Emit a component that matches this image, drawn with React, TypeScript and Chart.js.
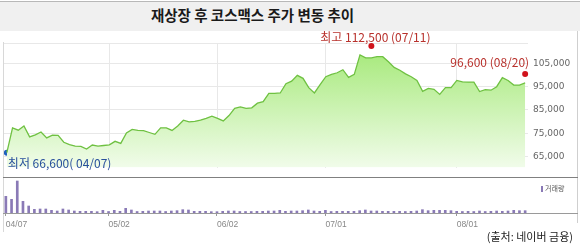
import React, { useEffect, useRef } from 'react';
import { Chart, registerables } from 'chart.js';

Chart.register(...registerables);

const TITLE = '재상장 후 코스맥스 주가 변동 추이';
const SOURCE = '(출처: 네이버 금융)';
const VOLUME_LEGEND = '거래량';

const dates = [
  '04/07', '04/08', '04/09', '04/10', '04/11', '04/14', '04/15', '04/16', '04/17', '04/18',
  '04/21', '04/22', '04/23', '04/24', '04/25', '04/28', '04/29', '04/30',
  '05/02', '05/07', '05/08', '05/09', '05/12', '05/13', '05/14', '05/15', '05/16', '05/19',
  '05/20', '05/21', '05/22', '05/23', '05/26', '05/27', '05/28', '05/29', '05/30',
  '06/02', '06/03', '06/05', '06/09', '06/10', '06/11', '06/12', '06/13', '06/16', '06/17',
  '06/18', '06/19', '06/20', '06/23', '06/24', '06/25', '06/26', '06/27', '06/30',
  '07/01', '07/02', '07/03', '07/04', '07/07', '07/08', '07/09', '07/10', '07/11', '07/14',
  '07/15', '07/16', '07/17', '07/18', '07/21', '07/22', '07/23', '07/24', '07/25', '07/28',
  '07/29', '07/30', '07/31',
  '08/01', '08/04', '08/05', '08/06', '08/07', '08/08', '08/11', '08/12', '08/13', '08/14',
  '08/18', '08/19', '08/20',
];

const prices = [
  66600, 77300, 76300, 78100, 73400, 74300, 75500, 73000, 74200, 74100, 71100, 70100, 69400, 69300, 68200, 69900, 69400, 69700,
  70000, 71500, 70600, 75100, 76600, 76200, 76100, 75300, 74500, 77300, 77300, 76200, 78100, 80600, 79900, 80100, 80600, 81400, 82300,
  81400, 80300, 82600, 85700, 86300, 85700, 85900, 87900, 88600, 92100, 92100, 92300, 96300, 97400, 99900, 98600, 94600, 92300, 95900,
  99300, 100300, 101000, 102300, 99000, 100300, 108700, 107400, 107400, 107900, 107900, 105700, 103300, 102100, 100500, 99300, 97700, 93000, 94300, 93900, 91700, 94600, 94600,
  97700, 97100, 97000, 97000, 92900, 93700, 93500, 95000, 98900, 97700, 95700, 95700, 96600,
];

const volumes = [
  500, 410, 960, 350, 210, 110, 120, 120, 80, 60, 120, 90, 60, 50, 50, 50, 40, 80,
  45, 80, 50, 140, 90, 45, 50, 60, 60, 60, 45, 60, 70, 100, 90, 50, 50, 50, 40,
  40, 50, 60, 60, 45, 45, 45, 50, 50, 60, 60, 80, 50, 60, 60, 70, 90, 60, 50,
  80, 45, 50, 50, 50, 50, 70, 90, 60, 60, 50, 50, 50, 50, 45, 50, 60, 100, 70, 80, 80, 80, 70,
  50, 45, 50, 45, 60, 45, 50, 60, 50, 60, 80, 70, 70,
];

const priceTicks = [65000, 75000, 85000, 95000, 105000];
const priceMin = 60200;
const priceMax = 113800;
const monthTickLabels = ['04/07', '05/02', '06/02', '07/01', '08/01'];

const highIdx = 64;
const highDot = 112500;
const highLabel = '최고 112,500 (07/11)';
const lowIdx = 0;
const lowDot = 66600;
const lowLabel = '최저 66,600( 04/07)';
const lastIdx = 91;
const lastDot = 100500;
const lastLabel = '96,600 (08/20)';

const RED = '#d0121b';
const RED_TEXT = '#b8312c';
const BLUE = '#1d5fbf';
const BLUE_TEXT = '#28509c';

const monthIdx = monthTickLabels.map((d) => dates.indexOf(d));

const annotationPlugin = {
  id: 'annot',
  afterDatasetsDraw(chart: any) {
    const { ctx, scales } = chart;
    const x = scales.x;
    const y = scales.y;
    ctx.save();
    ctx.font = '12px "Noto Sans CJK KR", sans-serif';
    ctx.textBaseline = 'middle';
    // high
    ctx.fillStyle = RED_TEXT;
    ctx.textAlign = 'center';
    ctx.fillText(highLabel, x.getPixelForValue(highIdx) + 4, y.getPixelForValue(highDot) - 9);
    // last
    ctx.textAlign = 'right';
    ctx.fillText(lastLabel, x.getPixelForValue(lastIdx) + 4, y.getPixelForValue(lastDot) - 11);
    // low
    ctx.fillStyle = BLUE_TEXT;
    ctx.textAlign = 'left';
    ctx.fillText(lowLabel, x.getPixelForValue(lowIdx) + 1, y.getPixelForValue(lowDot) + 11);
    ctx.restore();
  },
};

function dotSeries(idx: number, val: number) {
  return dates.map((_, i) => (i === idx ? val : null));
}

export default function App() {
  const priceRef = useRef<HTMLCanvasElement>(null);
  const volRef = useRef<HTMLCanvasElement>(null);

  useEffect(() => {
    document.body.style.margin = '0';
    const pc = new Chart(priceRef.current!, {
      type: 'line',
      data: {
        labels: dates,
        datasets: [
          {
            data: prices,
            borderColor: '#6fc142',
            borderWidth: 1.3,
            pointRadius: 0,
            tension: 0,
            fill: 'start',
            backgroundColor: (c: any) => {
              const { chart } = c;
              const area = chart.chartArea;
              if (!area) return 'rgba(0,0,0,0)';
              const g = chart.ctx.createLinearGradient(0, area.top, 0, area.bottom);
              g.addColorStop(0, '#a2e874');
              g.addColorStop(1, '#f1fcea');
              return g;
            },
          },
          { data: dotSeries(highIdx, highDot), showLine: false, pointRadius: 3, pointBackgroundColor: RED, pointBorderWidth: 0 },
          { data: dotSeries(lastIdx, lastDot), showLine: false, pointRadius: 3, pointBackgroundColor: RED, pointBorderWidth: 0 },
          { data: dotSeries(lowIdx, lowDot), showLine: false, pointRadius: 3, pointBackgroundColor: BLUE, pointBorderWidth: 0 },
        ],
      },
      options: {
        animation: false,
        responsive: false,
        layout: { padding: { left: 3, top: 12, bottom: 1, right: 0 } },
        plugins: { legend: { display: false }, tooltip: { enabled: false } },
        scales: {
          x: {
            type: 'category',
            offset: true,
            grid: { color: '#e8e8e8', offset: false, drawTicks: false },
            border: { display: false },
            ticks: { display: false, autoSkip: false },
            afterBuildTicks: (s: any) => {
              s.ticks = s.ticks.filter((t: any) => monthIdx.includes(t.value) && t.value !== 0);
            },
            afterFit: (s: any) => {
              s.height = 0;
            },
          },
          y: {
            position: 'right',
            min: priceMin,
            max: priceMax,
            grid: { color: '#e8e8e8', drawTicks: false },
            border: { display: false },
            ticks: {
              padding: 5,
              color: '#666',
              font: { family: '"DejaVu Sans", sans-serif', size: 9 },
              callback: (v: any) => (priceTicks.includes(v) ? Number(v).toLocaleString('en-US') : ''),
            },
            afterBuildTicks: (s: any) => {
              s.ticks = [...priceTicks, priceMax].map((v) => ({ value: v }));
            },
            afterFit: (s: any) => {
              s.width = 52;
            },
          },
        },
      },
      plugins: [annotationPlugin],
    } as any);

    const vc = new Chart(volRef.current!, {
      type: 'bar',
      data: {
        labels: dates,
        datasets: [
          {
            data: volumes,
            backgroundColor: '#8a7ab6',
            barThickness: 2,
          },
        ],
      },
      options: {
        animation: false,
        responsive: false,
        layout: { padding: { left: 3, top: 0, bottom: 0, right: 0 } },
        plugins: { legend: { display: false }, tooltip: { enabled: false } },
        scales: {
          x: {
            type: 'category',
            offset: true,
            grid: { display: true, offset: false, drawOnChartArea: false, drawTicks: true, tickLength: 3, color: '#999' },
            border: { display: false },
            ticks: {
              autoSkip: false,
              maxRotation: 0,
              align: 'start',
              padding: 4,
              color: '#888',
              font: { family: '"Liberation Sans", sans-serif', size: 8.5 },
            },
            afterBuildTicks: (s: any) => {
              s.ticks = s.ticks.filter((t: any) => monthIdx.includes(t.value));
            },
            afterFit: (s: any) => {
              s.height = 34;
            },
          },
          y: {
            position: 'right',
            min: 0,
            max: 1050,
            grid: { display: false },
            border: { display: false },
            ticks: { display: false },
            afterFit: (s: any) => {
              s.width = 52;
            },
          },
        },
      },
    } as any);

    return () => {
      pc.destroy();
      vc.destroy();
    };
  }, []);

  const line = (style: React.CSSProperties) => (
    <div style={{ position: 'absolute', ...style }} />
  );

  return (
    <div style={{ position: 'absolute', left: 0, top: 0, width: 580, height: 247, background: '#fff', overflow: 'hidden' }}>
      <div
        style={{
          position: 'absolute',
          left: 0,
          top: 1,
          width: 580,
          height: 29,
          background: '#f0f0f0',
          borderTop: '1px solid #b8b8b8',
        }}
      />
      <div
        style={{
          position: 'absolute',
          left: 147,
          width: 211,
          top: 4,
          height: 26,
          lineHeight: '26px',
          textAlign: 'center',
          whiteSpace: 'nowrap',
          font: '700 14.5px "Noto Sans CJK KR", sans-serif',
          color: '#1a1a1a',
        }}
      >
        {TITLE}
      </div>
      <canvas ref={priceRef} width={580} height={147} style={{ position: 'absolute', left: 0, top: 31 }} />
      <canvas ref={volRef} width={580} height={69} style={{ position: 'absolute', left: 0, top: 178 }} />
      {line({ left: 3, top: 42, width: 1, height: 190, background: '#d8d8d8' })}
      {line({ left: 577, top: 31, width: 1, height: 192, background: '#cfcfcf' })}
      {line({ left: 3, top: 177, width: 575, height: 1, background: '#808080' })}
      {line({ left: 3, top: 213, width: 575, height: 1, background: '#9a9a9a' })}
      <div
        style={{
          position: 'absolute',
          left: 541,
          top: 182,
          font: '7px "Noto Sans CJK KR", sans-serif',
          color: '#555',
          whiteSpace: 'nowrap',
          lineHeight: '12px',
        }}
      >
        <span style={{ display: 'inline-block', width: 2, height: 6, background: '#8a7ab6', marginRight: 2, verticalAlign: 'middle' }} />
        {VOLUME_LEGEND}
      </div>
      <div
        style={{
          position: 'absolute',
          right: 7,
          top: 228,
          font: '11px "Noto Sans CJK KR", sans-serif',
          color: '#222',
          whiteSpace: 'nowrap',
          lineHeight: '16px',
        }}
      >
        {SOURCE}
      </div>
    </div>
  );
}
